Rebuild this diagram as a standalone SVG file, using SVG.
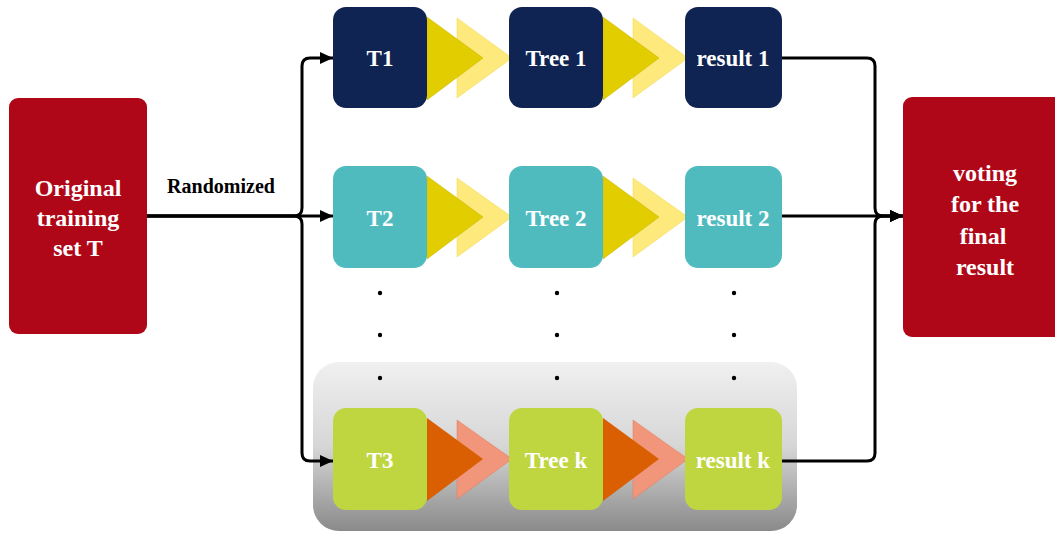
<svg xmlns="http://www.w3.org/2000/svg" width="1055" height="533" viewBox="0 0 1055 533">
<defs>
<linearGradient id="panelGrad" x1="0" y1="0" x2="0" y2="1">
<stop offset="0" stop-color="#f0f0f0"/>
<stop offset="0.5" stop-color="#d6d6d6"/>
<stop offset="1" stop-color="#8a8a8a"/>
</linearGradient>
<marker id="arr" markerUnits="userSpaceOnUse" markerWidth="14" markerHeight="14" viewBox="0 0 14 14" refX="13" refY="7" orient="auto">
<path d="M0,1 L13,7 L0,13 Z" fill="#000"/>
</marker>
<style>
.lbl{font-family:"Liberation Serif","Times New Roman",serif;font-weight:bold;fill:#fff;text-anchor:middle;font-size:23px}
.big{font-size:24px}
.conn{fill:none;stroke:#000;stroke-width:3}
.navy{fill:#0f2452}
.teal{fill:#4fbbbf}
.lime{fill:#c0d641}
.red{fill:#b00718}
.ydark{fill:#e2cd00;stroke:#c9b200;stroke-width:0.5}
.ylight{fill:#fde97c;stroke:#f2d650;stroke-width:0.5}
.odark{fill:#d95f02}
.olight{fill:#f1967a;stroke:#e07a5c;stroke-width:0.5}
.dot{fill:#000}
</style>
</defs>
<rect width="1055" height="533" fill="#fff"/>

<g id="panel">
<rect x="313" y="362" width="484" height="169" rx="26" fill="url(#panelGrad)"/>
</g>

<g id="connectors">
<path class="conn" d="M147,216 H294 Q302,216 302,208 V66 Q302,58 310,58 H333" marker-end="url(#arr)"/>
<path class="conn" d="M147,216 H333" marker-end="url(#arr)"/>
<path class="conn" d="M147,216 H294 Q302,216 302,224 V453 Q302,461 310,461 H333" marker-end="url(#arr)"/>
<path class="conn" d="M782,58 H867 Q875,58 875,66 V208 Q875,216 883,216 H903" marker-end="url(#arr)"/>
<path class="conn" d="M782,216 H903" marker-end="url(#arr)"/>
<path class="conn" d="M782,461 H867 Q875,461 875,453 V224 Q875,216 883,216 H903" marker-end="url(#arr)"/>
</g>

<g id="original">
<rect class="red" x="9" y="98" width="138" height="236" rx="9"/>
<text class="lbl big" x="78" y="196">Original</text>
<text class="lbl big" x="78" y="226">training</text>
<text class="lbl big" x="78" y="256">set T</text>
</g>
<text x="221" y="193" font-family="'Liberation Serif','Times New Roman',serif" font-weight="bold" font-size="20" text-anchor="middle" fill="#000">Randomized</text>

<g id="voting">
<rect class="red" x="903" y="97" width="160" height="240" rx="9"/>
<text class="lbl big" x="985" y="181">voting</text>
<text class="lbl big" x="985" y="212">for the</text>
<text class="lbl big" x="983" y="244">final</text>
<text class="lbl big" x="985" y="275">result</text>
</g>

<!-- Row 1 -->
<g id="arrows-row1">
<polygon class="ylight" points="457,18 512,58 457,98"/>
<polygon class="ydark" points="427,17 483,58 427,100"/>
<polygon class="ylight" points="633,18 688,58 633,98"/>
<polygon class="ydark" points="603,17 659,58 603,100"/>
</g>
<g id="T1"><rect class="navy" x="333" y="7" width="94" height="101" rx="13"/><text class="lbl" x="380" y="66">T1</text></g>
<g id="Tree1"><rect class="navy" x="509" y="7" width="94" height="101" rx="13"/><text class="lbl" x="556" y="66">Tree 1</text></g>
<g id="result1"><rect class="navy" x="685" y="7" width="97" height="101" rx="13"/><text class="lbl" x="733" y="66">result 1</text></g>

<!-- Row 2 -->
<g id="arrows-row2">
<polygon class="ylight" points="457,178 512,217 457,257"/>
<polygon class="ydark" points="427,176 483,217 427,259"/>
<polygon class="ylight" points="633,178 688,217 633,257"/>
<polygon class="ydark" points="603,176 659,217 603,259"/>
</g>
<g id="T2"><rect class="teal" x="333" y="166" width="94" height="102" rx="13"/><text class="lbl" x="380" y="226">T2</text></g>
<g id="Tree2"><rect class="teal" x="509" y="166" width="94" height="102" rx="13"/><text class="lbl" x="556" y="226">Tree 2</text></g>
<g id="result2"><rect class="teal" x="685" y="166" width="97" height="102" rx="13"/><text class="lbl" x="733" y="226">result 2</text></g>

<g id="dots">
<circle class="dot" cx="380" cy="293" r="2.2"/><circle class="dot" cx="557" cy="293" r="2.2"/><circle class="dot" cx="734" cy="293" r="2.2"/>
<circle class="dot" cx="380" cy="335" r="2.2"/><circle class="dot" cx="557" cy="335" r="2.2"/><circle class="dot" cx="734" cy="335" r="2.2"/>
<circle class="dot" cx="380" cy="378" r="2.2"/><circle class="dot" cx="557" cy="378" r="2.2"/><circle class="dot" cx="734" cy="378" r="2.2"/>
</g>

<!-- Row 3 -->
<g id="arrows-row3">
<polygon class="olight" points="457,420 512,459 457,499"/>
<polygon class="odark" points="427,418 483,459 427,501"/>
<polygon class="olight" points="633,420 688,459 633,499"/>
<polygon class="odark" points="603,418 659,459 603,501"/>
</g>
<g id="T3"><rect class="lime" x="333" y="408" width="94" height="102" rx="13"/><text class="lbl" x="380" y="468">T3</text></g>
<g id="Treek"><rect class="lime" x="509" y="408" width="94" height="102" rx="13"/><text class="lbl" x="556" y="468">Tree k</text></g>
<g id="resultk"><rect class="lime" x="685" y="408" width="97" height="102" rx="13"/><text class="lbl" x="733" y="468">result k</text></g>
</svg>
